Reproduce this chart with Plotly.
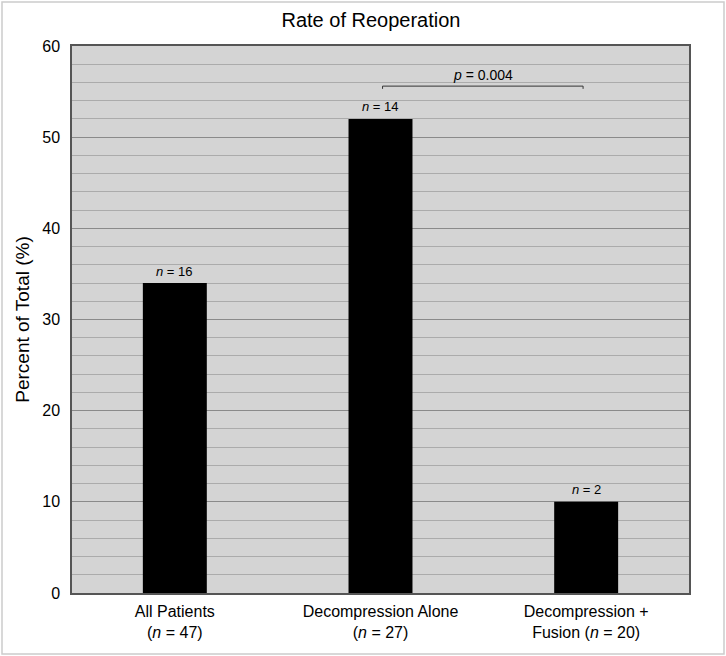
import plotly.graph_objects as go

categories = ["All Patients<br>(<i>n</i> = 47)",
              "Decompression Alone<br>(<i>n</i> = 27)",
              "Decompression +<br>Fusion (<i>n</i> = 20)"]
values = [34, 52, 10]
n_labels = ["<i>n</i> = 16", "<i>n</i> = 14", "<i>n</i> = 2"]
p_text = "<i>p</i> = 0.004"
p_level = 55.6
p_from, p_to = 1.01, 1.985

font = "Liberation Sans, Arial, Helvetica, sans-serif"

fig = go.Figure()
fig.add_trace(go.Bar(x=categories, y=values, marker=dict(color="black", line=dict(width=0)),
                     width=0.311))

for c, v, t in zip(categories, values, n_labels):
    fig.add_annotation(x=c, y=v, text=t, showarrow=False, yshift=12,
                       font=dict(size=13, color="black", family=font))

fig.add_shape(type="path", xref="x", yref="y",
              path=f"M {p_from} {p_level-0.3} L {p_from} {p_level} L {p_to} {p_level} L {p_to} {p_level-0.3}",
              line=dict(color="#333", width=1))
fig.add_annotation(x=(p_from + p_to) / 2, y=p_level, text=p_text, showarrow=False,
                   yshift=11, font=dict(size=14, color="black", family=font))

W, H = 726, 656
L, R, T, B = 72, 37, 46, 63
pw, ph = W - L - R, H - T - B

fig.update_layout(
    width=W, height=H,
    margin=dict(l=L, r=R, t=T, b=B),
    paper_bgcolor="white", plot_bgcolor="#d4d4d4",
    title=dict(text="Rate of Reoperation", x=(371 - L) / pw, xref="paper", xanchor="center",
               y=1 - 20 / H, yanchor="middle",
               font=dict(size=20, color="black", family=font)),
    font=dict(family=font, color="black"),
    showlegend=False,
)
fig.update_xaxes(showline=True, linecolor="#555", linewidth=1.5, mirror=True,
                 tickfont=dict(size=16), ticks="", showgrid=False, ticklabelstandoff=3)
fig.update_yaxes(range=[0, 60], dtick=10, showgrid=True, gridcolor="#8a8a8a", gridwidth=1,
                 minor=dict(dtick=2, showgrid=True, gridcolor="#ababab", gridwidth=1),
                 showline=True, linecolor="#555", linewidth=1.5, mirror=True,
                 zeroline=False, ticks="", tickfont=dict(size=16), ticklabelstandoff=7,
                 title=dict(text="Percent of Total (%)", font=dict(size=19), standoff=8))

fig.add_shape(type="rect", xref="paper", yref="paper",
              x0=(2 - L) / pw, x1=(724 - L) / pw, y0=-(654 - (H - B)) / ph, y1=((H - B) - 2) / ph,
              line=dict(color="#cccccc", width=1.5), layer="below")

fig.write_html("out.html", post_script="document.body.style.margin='0';",
               config={"displayModeBar": False})
